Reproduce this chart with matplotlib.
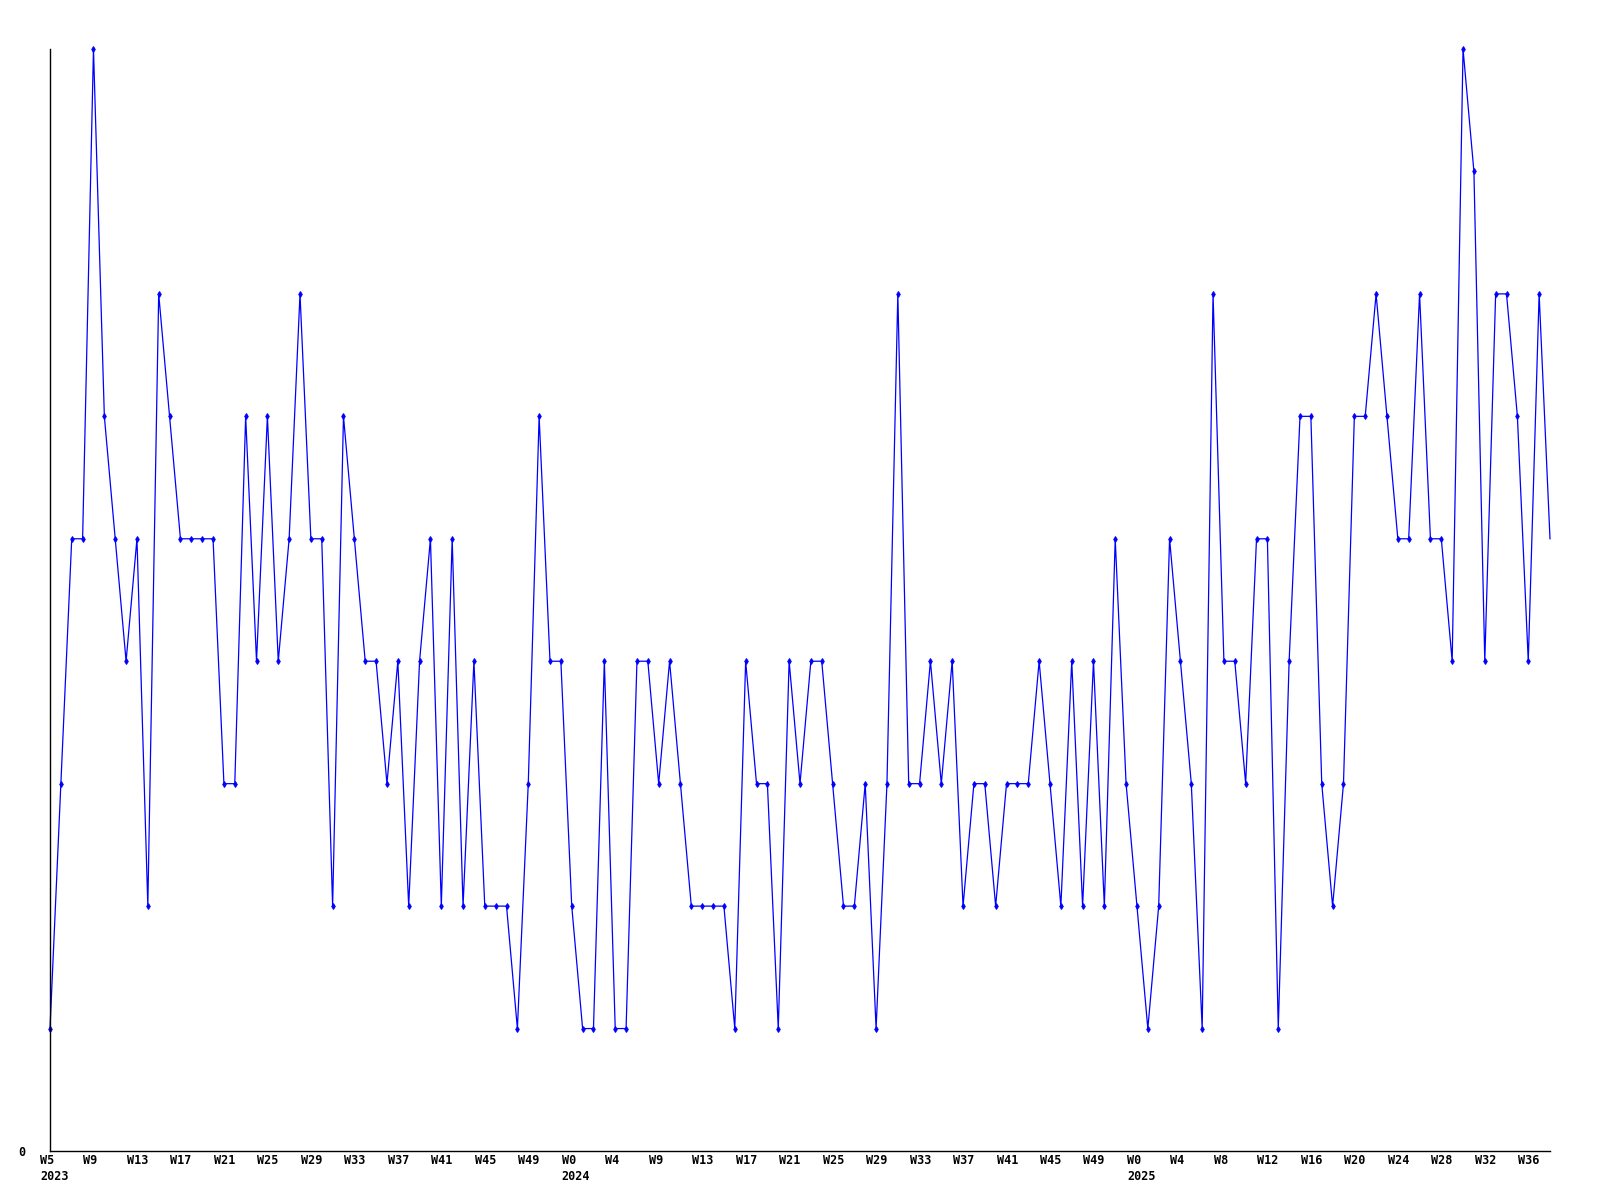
import matplotlib
matplotlib.use("Agg")
import matplotlib.pyplot as plt
import matplotlib.transforms as mtransforms

values = [1, 3, 5, 5, 9, 6, 5, 4, 5, 2, 7, 6, 5, 5, 5, 5, 3, 3, 6, 4,
          6, 4, 5, 7, 5, 5, 2, 6, 5, 4, 4, 3, 4, 2, 4, 5, 2, 5, 2, 4,
          2, 2, 2, 1, 3, 6, 4, 4, 2, 1, 1, 4, 1, 1, 4, 4, 3, 4, 3, 2,
          2, 2, 2, 1, 4, 3, 3, 1, 4, 3, 4, 4, 3, 2, 2, 3, 1, 3, 7, 3,
          3, 4, 3, 4, 2, 3, 3, 2, 3, 3, 3, 4, 3, 2, 4, 2, 4, 2, 5, 3,
          2, 1, 2, 5, 4, 3, 1, 7, 4, 4, 3, 5, 5, 1, 4, 6, 6, 3, 2, 3,
          6, 6, 7, 6, 5, 5, 7, 5, 5, 4, 9, 8, 4, 7, 7, 6, 4, 7, 5]

week_labels = ["W5", "W9", "W13", "W17", "W21", "W25", "W29", "W33", "W37", "W41",
               "W45", "W49", "W0", "W4", "W9", "W13", "W17", "W21", "W25", "W29",
               "W33", "W37", "W41", "W45", "W49", "W0", "W4", "W8", "W12", "W16",
               "W20", "W24", "W28", "W32", "W36"]
year_labels = {0: "2023", 12: "2024", 25: "2025"}
label_step = 4

x = list(range(len(values)))
tick_pos = [i * label_step for i in range(len(week_labels))]

fig = plt.figure(figsize=(16, 12), dpi=100)
ax = fig.add_axes([50 / 1600, 49 / 1200, 1500 / 1600, 1102 / 1200])

ax.plot(x, values, color="#0000ff", linewidth=0.9, marker="d",
        markersize=3, markeredgewidth=0.7, clip_on=False, markevery=list(range(len(values) - 1)))

ax.set_xlim(0, len(values) - 1)
ax.set_ylim(0, 9)
for s in ["top", "right"]:
    ax.spines[s].set_visible(False)
for s in ["left", "bottom"]:
    ax.spines[s].set_linewidth(1.0)
    ax.spines[s].set_color("black")

ax.set_xticks(tick_pos)
ax.set_xticklabels([])
ax.tick_params(axis="x", length=0)

base = mtransforms.blended_transform_factory(ax.transData, ax.transAxes)
week_tr = base + mtransforms.ScaledTranslation(-10 / 100, -10 / 100, fig.dpi_scale_trans)
year_tr = base + mtransforms.ScaledTranslation(-10 / 100, -26 / 100, fig.dpi_scale_trans)
font = dict(fontfamily="DejaVu Sans Mono", fontweight="bold", fontsize=8.5)
for i, (p, w) in enumerate(zip(tick_pos, week_labels)):
    ax.text(p, 0, w, transform=week_tr, ha="left", va="center", **font)
    if i in year_labels:
        ax.text(p, 0, year_labels[i], transform=year_tr, ha="left", va="center", **font)

ax.set_yticks([0])
ax.set_yticklabels(["0"], **font)
ax.tick_params(axis="y", length=0, pad=18)

fig.savefig("out.png", dpi=100)
